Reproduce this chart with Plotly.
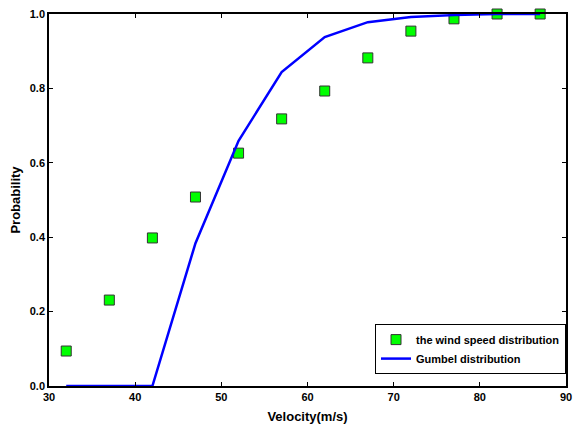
import plotly.graph_objects as go

velocity = [32, 37, 42, 47, 52, 57, 62, 67, 72, 77, 82, 87]
wind_prob = [0.094, 0.231, 0.398, 0.508, 0.626, 0.718, 0.793, 0.882, 0.954, 0.987, 1.0, 1.0]
gumbel_prob = [0.0, 0.0, 0.0, 0.384, 0.659, 0.844, 0.938, 0.978, 0.992, 0.997, 1.0, 1.0]
x_ticks = [30, 40, 50, 60, 70, 80, 90]
y_ticks = [0.0, 0.2, 0.4, 0.6, 0.8, 1.0]
y_ticklabels = ["0.0", "0.2", "0.4", "0.6", "0.8", "1.0"]

FONT = "Liberation Sans, Arial, sans-serif"

fig = go.Figure()
fig.add_trace(go.Scatter(
    x=velocity, y=wind_prob, mode="markers", name="the wind speed distribution",
    marker=dict(symbol="square", size=10, color="#00FF00", line=dict(color="#333333", width=1)),
    cliponaxis=False,
))
fig.add_trace(go.Scatter(
    x=velocity, y=gumbel_prob, mode="lines", name="Gumbel distribution",
    line=dict(color="#0000FF", width=2.5), cliponaxis=False,
))

axis_common = dict(
    showgrid=False, zeroline=False, showline=True, linecolor="black", linewidth=1.5,
    mirror="ticks", ticks="inside", ticklen=4, tickcolor="black", tickwidth=1,
    tickfont=dict(family=FONT, size=11, color="black", weight="bold"),
    ticklabeloverflow="allow", automargin=False,
)

fig.update_xaxes(range=[30, 90], tickmode="array", tickvals=x_ticks,
                 title=dict(text="Velocity(m/s)", font=dict(family=FONT, size=13, color="black", weight="bold"), standoff=10),
                 **axis_common)
fig.update_yaxes(range=[0, 1], tickmode="array", tickvals=y_ticks, ticktext=y_ticklabels,
                 title=dict(text="Probability", font=dict(family=FONT, size=13, color="black", weight="bold"), standoff=6),
                 **axis_common)

fig.update_layout(
    width=573, height=424,
    margin=dict(l=49, r=7, t=14, b=38),
    plot_bgcolor="white", paper_bgcolor="white",
    legend=dict(x=1, y=0.032, xanchor="right", yanchor="bottom",
                bordercolor="black", borderwidth=1, bgcolor="white",
                font=dict(family=FONT, size=11, color="black", weight="bold"),
                tracegroupgap=0, itemwidth=30, traceorder="normal"),
    showlegend=True,
)

fig.write_html("out.html")
